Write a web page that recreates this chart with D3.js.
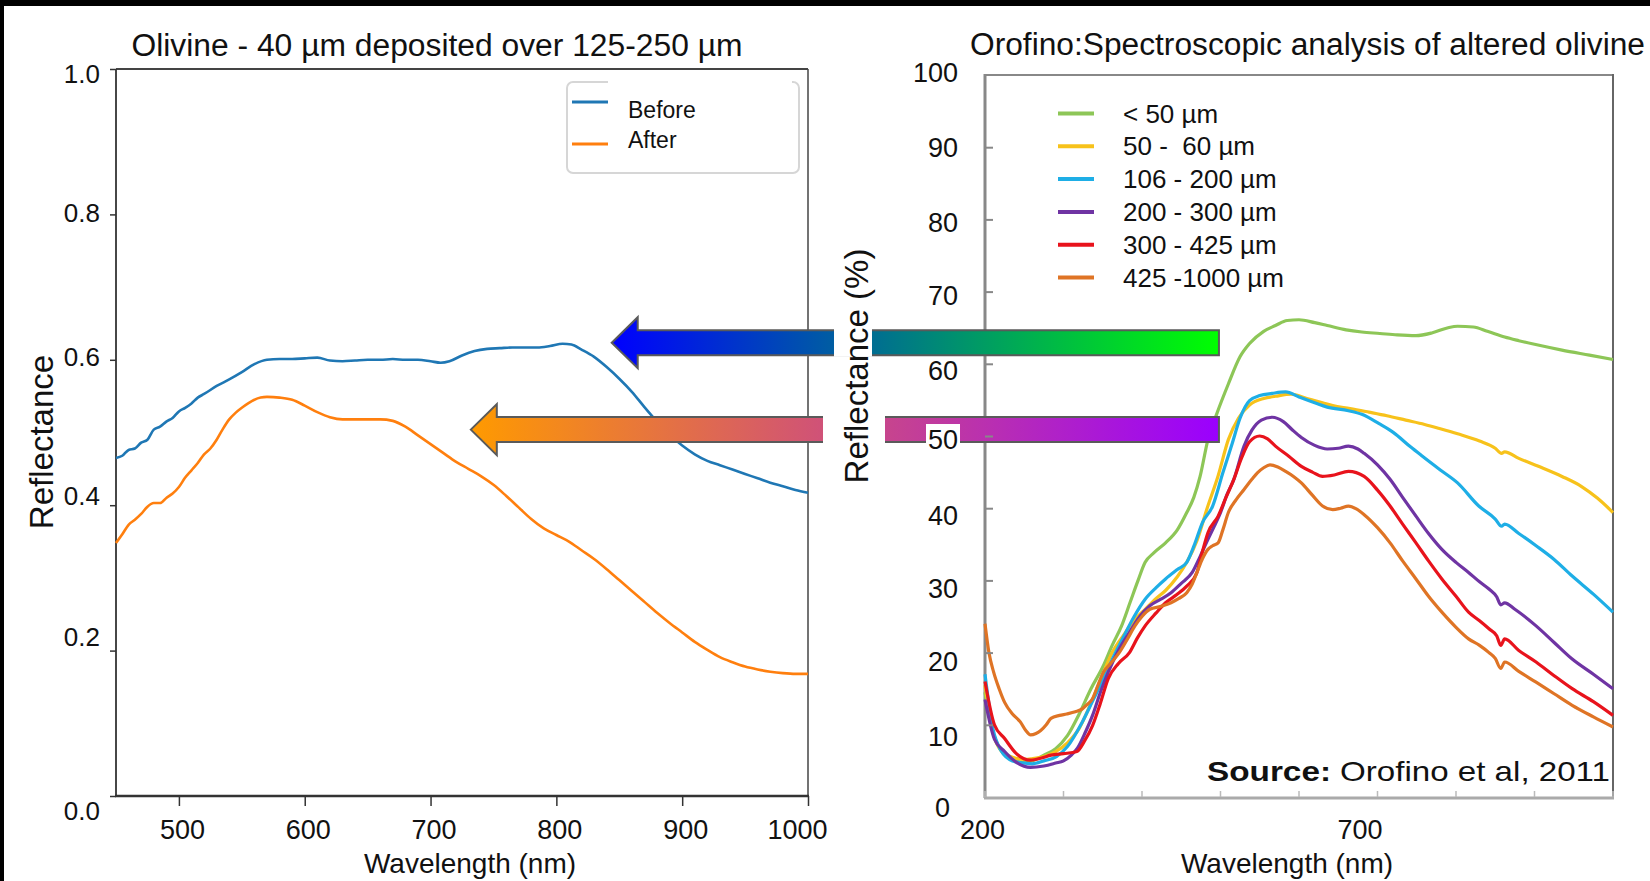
<!DOCTYPE html>
<html>
<head>
<meta charset="utf-8">
<script src="https://cdn.jsdelivr.net/npm/d3@7"></script>
<style>
  html, body { margin: 0; padding: 0; background: #000; }
  svg { display: block; }
  text { font-family: "Liberation Sans", Arial, sans-serif; fill: #111; }
</style>
</head>
<body>
<div id="chart"></div>
<script>
// ---- left panel data: olivine, reflectance (0-1) vs wavelength (nm)
const leftSeries = ["Before", "After"];
const before = [
  [450,0.465],[455,0.468],[460,0.476],[465,0.478],[470,0.486],[475,0.490],[480,0.504],[485,0.508],
  [490,0.515],[495,0.520],[500,0.529],[505,0.534],[510,0.540],[515,0.548],[520,0.553],[530,0.564],
  [540,0.573],[550,0.583],[560,0.594],[570,0.600],[580,0.601],[590,0.601],[600,0.602],[610,0.603],
  [620,0.599],[630,0.598],[640,0.599],[650,0.600],[660,0.600],[670,0.601],[680,0.600],[690,0.600],
  [700,0.598],[708,0.596],[715,0.598],[725,0.606],[735,0.612],[745,0.615],[755,0.616],[765,0.617],
  [775,0.617],[785,0.617],[795,0.619],[805,0.622],[812,0.621],[820,0.614],[830,0.604],[840,0.590],
  [850,0.574],[860,0.556],[870,0.535],[880,0.515],[890,0.497],[900,0.482],[910,0.470],[920,0.461],
  [930,0.455],[940,0.449],[950,0.443],[960,0.437],[970,0.431],[980,0.426],[990,0.421],[1000,0.417]
];
const after = [
  [450,0.348],[455,0.360],[460,0.373],[465,0.380],[470,0.388],[475,0.398],[480,0.403],[485,0.403],
  [490,0.410],[495,0.416],[500,0.425],[505,0.438],[510,0.448],[515,0.458],[520,0.470],[525,0.478],
  [530,0.490],[535,0.505],[540,0.518],[545,0.527],[550,0.534],[555,0.540],[560,0.545],[565,0.548],
  [570,0.549],[580,0.548],[590,0.545],[600,0.537],[610,0.528],[620,0.521],[630,0.518],[640,0.518],
  [650,0.518],[660,0.518],[670,0.516],[680,0.508],[690,0.496],[700,0.484],[710,0.472],[720,0.460],
  [730,0.450],[740,0.440],[750,0.428],[760,0.413],[770,0.397],[780,0.381],[790,0.368],[800,0.359],
  [810,0.350],[820,0.338],[830,0.326],[840,0.312],[850,0.297],[860,0.282],[870,0.267],[880,0.252],
  [890,0.238],[900,0.225],[910,0.212],[920,0.201],[930,0.191],[940,0.184],[950,0.178],[960,0.174],
  [970,0.171],[980,0.169],[990,0.168],[1000,0.168]
];
const leftXTicks = [500, 600, 700, 800, 900, 1000];
const leftYTicks = [0, 0.2, 0.4, 0.6, 0.8, 1.0];

// ---- right panel data: Orofino et al. 2011, reflectance (%) by grain size
const grainLabels = ["< 50 µm", "50 -  60 µm", "106 - 200 µm", "200 - 300 µm", "300 - 425 µm", "425 -1000 µm"];
const grainColors = ["#8dc657", "#f7c21b", "#1eaee6", "#6f34a3", "#e8131c", "#df7425"];
const grain50 = [
  [200,14.5],[210,9],[220,6.5],[235,5.2],[250,4.8],[260,5],[275,5.8],[290,6.7],[305,8.5],[320,11.5],
  [335,15],[350,18],[362,21],[374,23.7],[385,27],[395,30],[404,32.5],[415,33.8],[430,35.2],[445,37],
  [457,39.4],[466,41.5],[474,44.4],[484,49.5],[495,53],[510,57.2],[525,61],[537,62.8],[555,64.5],
  [570,65.3],[585,66],[600,66.1],[620,65.7],[636,65.3],[660,64.7],[680,64.4],[703,64.2],[725,64],
  [749,63.9],[770,64.3],[790,65],[802,65.2],[822,65.1],[840,64.5],[862,63.7],[880,63.2],[900,62.7],
  [935,61.9],[970,61.2],[1000,60.6]
];
const grain60 = [
  [200,15.5],[210,9],[220,6.5],[235,5.5],[250,5.2],[260,5.3],[275,5.6],[290,6.3],[305,7.5],[320,9.5],
  [335,13],[350,17],[362,20],[377,22.5],[390,24.5],[404,26],[418,27.5],[430,28.6],[445,30.5],[457,32.5],
  [470,35.5],[483,40],[497,44.5],[510,49.5],[523,52.5],[537,54.3],[555,55.2],[570,55.5],[590,55.8],
  [610,55.2],[630,54.6],[643,54.2],[665,53.8],[689,53.3],[712,52.8],[736,52.2],[760,51.6],[780,51],
  [802,50.3],[830,49.3],[850,48.3],[858,47.6],[862,47.8],[880,46.9],[905,45.8],[935,44.4],[960,43],
  [980,41.4],[1000,39.4]
];
const grain200 = [
  [200,17],[210,9.5],[220,6.5],[235,5],[250,4.7],[260,4.6],[275,5],[291,5.6],[305,7],[324,10.4],
  [338,13.5],[351,16.4],[364,19.5],[377,22.3],[390,25],[404,27.4],[418,29],[430,30.2],[445,31.5],
  [457,32.5],[467,35],[477,38],[490,40.3],[503,44.9],[515,49],[525,52.5],[537,54.9],[550,55.6],
  [566,55.9],[583,56.1],[600,55.4],[620,54.6],[636,54],[663,53.5],[680,53],[702,51.7],[720,50.5],
  [742,48.5],[756,47.3],[780,45.3],[802,43.5],[829,40.3],[850,38.5],[858,37.5],[862,37.8],[880,36.5],
  [902,34.8],[925,32.9],[948,30.6],[975,28.1],[1000,25.6]
];
const grain300 = [
  [200,13.5],[212,8],[225,6.3],[240,4.8],[258,4.1],[275,4.3],[290,4.7],[300,5],[310,5.8],[318,6.8],
  [328,9],[337,11.3],[347,14.5],[357,17.3],[370,20.3],[384,22.8],[397,25],[410,26.5],[424,27.4],
  [437,28.3],[450,29.6],[464,31.1],[474,33.3],[484,35.7],[492,37.5],[500,39.4],[508,41.8],[517,44],
  [530,48.6],[540,50.8],[552,52.2],[566,52.6],[580,52],[592,50.8],[603,49.8],[620,48.7],[636,48.2],
  [650,48.3],[663,48.6],[675,48.2],[683,47.6],[700,46],[716,44],[732,41.5],[749,38.9],[765,36.5],
  [782,34.3],[800,32.5],[816,31.1],[830,29.8],[842,28.8],[852,27.7],[857,26.6],[862,26.9],[875,26],
  [902,23.7],[925,21.4],[948,19.1],[975,17],[1000,15]
];
const grain425 = [
  [200,16],[212,10],[225,8.1],[240,6],[258,5.1],[272,5.4],[284,5.8],[300,6],[317,6.3],[327,7.8],
  [337,9.9],[347,13],[357,16.4],[370,18.5],[384,20],[394,22],[404,23.7],[418,25.5],[430,26.9],
  [444,28],[457,29.2],[470,31.1],[477,34],[484,36.6],[497,38.9],[507,41.5],[517,44],[527,47],
  [537,49.2],[550,50],[560,49.6],[570,48.6],[587,47.2],[603,45.8],[617,45],[630,44.4],[645,44.6],
  [663,45.1],[683,44.4],[700,42.5],[716,40.3],[732,37.8],[749,35.2],[765,32.7],[782,30.2],[800,27.8],
  [816,25.6],[830,24.4],[842,23.3],[852,22.3],[857,21],[862,21.9],[880,20.3],[902,18.7],[925,16.8],
  [948,15],[975,13.2],[1000,11.3]
];
const grain1000 = [
  [200,24],[205,20],[211,17.3],[218,15],[225,13.1],[235,11.5],[245,10.4],[252,9.2],[258,8.6],[265,8.8],
  [271,9.2],[278,10],[284,10.9],[295,11.3],[304,11.5],[315,11.8],[324,12.2],[330,12.8],[337,13.6],
  [344,15.5],[351,17.3],[360,18.5],[371,20],[381,21.8],[391,23.7],[400,25],[410,26],[424,26.4],
  [437,26.9],[447,27.5],[457,28.3],[464,29.5],[470,31.1],[477,33],[484,34.3],[490,34.8],[497,35.2],
  [503,37],[510,39.4],[520,41.2],[530,42.6],[540,44],[547,44.9],[555,45.6],[563,46],[573,45.7],
  [583,45.1],[593,44.4],[603,43.5],[617,41.8],[630,40.3],[643,39.8],[653,40],[663,40.3],[673,39.9],
  [683,39.1],[700,37.3],[716,35.2],[732,32.7],[749,30.2],[765,27.8],[782,25.6],[800,23.5],[816,21.9],
  [830,21],[842,20],[850,19.2],[857,17.8],[862,18.7],[880,17.4],[902,15.9],[925,14.3],[948,12.7],
  [975,11.1],[1000,9.7]
];
const grainSeries = [grain50, grain60, grain200, grain300, grain425, grain1000];
const rightYTicks = [0, 10, 20, 30, 40, 50, 60, 70, 80, 90, 100];
const rightXTicks = [200, 700];
const rightMinorTicks = [200, 300, 400, 500, 600, 700, 800, 900, 1000];

// comparison arrows: start on the left panel (nm, reflectance), end on the right panel (nm)
const arrowTipsNm = [844, 732];
const arrowLevels = [0.6235, 0.504];
const arrowEndNm = 498;

const W = 1650, H = 881;
const font = '"Liberation Sans", Arial, sans-serif';

const svg = d3.select("#chart").append("svg")
  .attr("width", W)
  .attr("height", H);

const defs = svg.append("defs");

svg.append("rect").attr("width", W).attr("height", H).attr("fill", "#000");
svg.append("rect").attr("x", 4).attr("y", 6).attr("width", W - 4).attr("height", H - 6).attr("fill", "#fff");

// ================= left panel =================
const xL = d3.scaleLinear().domain([450, 1000]).range([116, 808]);
const yL = d3.scaleLinear().domain([0, 1]).range([796, 69]);
const left = svg.append("g");

left.append("text")
  .attr("x", 131.5).attr("y", 56)
  .attr("font-size", 31)
  .attr("textLength", 611).attr("lengthAdjust", "spacingAndGlyphs")
  .text("Olivine - 40 µm deposited over 125-250 µm");

// frame
left.append("line").attr("x1", 116).attr("x2", 808).attr("y1", 69).attr("y2", 69).attr("stroke", "#444").attr("stroke-width", 2);
left.append("line").attr("x1", 808).attr("x2", 808).attr("y1", 69).attr("y2", 796).attr("stroke", "#444").attr("stroke-width", 1.5);
left.append("line").attr("x1", 116).attr("x2", 116).attr("y1", 69).attr("y2", 796).attr("stroke", "#333").attr("stroke-width", 1.8);
left.append("line").attr("x1", 115).attr("x2", 809).attr("y1", 796).attr("y2", 796).attr("stroke", "#333").attr("stroke-width", 2.5);

const xAxisL = left.append("g")
  .attr("transform", "translate(0,796)")
  .call(d3.axisBottom(xL).tickValues(leftXTicks).tickSize(10).tickPadding(14).tickFormat(d3.format("d")));
xAxisL.select(".domain").remove();
xAxisL.selectAll(".tick line").attr("stroke", "#333").attr("stroke-width", 1.5);
xAxisL.selectAll(".tick text")
  .attr("font-size", 27).attr("font-family", font).attr("fill", "#111")
  .attr("dx", d => d === 1000 ? -11 : 3);

const yShiftL = { 0: 15, 0.2: -13, 0.4: -9, 0.6: -3, 0.8: -1, 1: 5 };
const yAxisL = left.append("g")
  .attr("transform", "translate(116,0)")
  .call(d3.axisLeft(yL).tickValues(leftYTicks).tickSize(6).tickPadding(10).tickFormat(d3.format(".1f")));
yAxisL.select(".domain").remove();
yAxisL.selectAll(".tick line").attr("stroke", "#333").attr("stroke-width", 1.5);
yAxisL.selectAll(".tick text")
  .attr("font-size", 26).attr("font-family", font).attr("fill", "#111")
  .attr("transform", d => `translate(0,${yShiftL[d] || 0})`);

left.append("text")
  .attr("x", 470).attr("y", 873)
  .attr("text-anchor", "middle").attr("font-size", 28)
  .text("Wavelength (nm)");
left.append("text")
  .attr("transform", "translate(53,442) rotate(-90)")
  .attr("text-anchor", "middle").attr("font-size", 33)
  .text("Reflectance");

const lineL = d3.line().x(d => xL(d[0])).y(d => yL(d[1])).curve(d3.curveMonotoneX);
const leftColors = ["#1f77b4", "#ff7f0e"];
[before, after].forEach((s, i) => {
  left.append("path")
    .datum(s)
    .attr("d", lineL)
    .attr("fill", "none")
    .attr("stroke", leftColors[i])
    .attr("stroke-width", 2.6)
    .attr("stroke-linejoin", "round");
});

// legend
left.append("rect")
  .attr("x", 567).attr("y", 82).attr("width", 232).attr("height", 91).attr("rx", 6)
  .attr("fill", "#fff").attr("stroke", "#d6d6d6").attr("stroke-width", 2);
left.append("rect").attr("x", 608).attr("y", 79).attr("width", 184).attr("height", 6).attr("fill", "#fff");
const legLineY = [102, 144];
const legTextY = [118, 148];
leftSeries.forEach((name, i) => {
  left.append("line")
    .attr("x1", 572).attr("x2", 608).attr("y1", legLineY[i]).attr("y2", legLineY[i])
    .attr("stroke", leftColors[i]).attr("stroke-width", 3);
  left.append("text")
    .attr("x", 628).attr("y", legTextY[i]).attr("font-size", 23)
    .text(name);
});

// ================= right panel =================
const xR = d3.scaleLinear().domain([200, 1000]).range([985, 1613]);
const yR = d3.scaleLinear().domain([0, 100]).range([797, 75]);
const right = svg.append("g");

right.append("text")
  .attr("x", 970).attr("y", 55)
  .attr("font-size", 31)
  .attr("textLength", 675).attr("lengthAdjust", "spacingAndGlyphs")
  .text("Orofino:Spectroscopic analysis of altered olivine");

right.append("line").attr("x1", 985).attr("x2", 1613).attr("y1", 75).attr("y2", 75).attr("stroke", "#888").attr("stroke-width", 2);
right.append("line").attr("x1", 1613).attr("x2", 1613).attr("y1", 74).attr("y2", 798).attr("stroke", "#666").attr("stroke-width", 2);
right.append("line").attr("x1", 985).attr("x2", 985).attr("y1", 74).attr("y2", 798).attr("stroke", "#888").attr("stroke-width", 3);
right.append("line").attr("x1", 984).attr("x2", 1614).attr("y1", 798).attr("y2", 798).attr("stroke", "#aaa").attr("stroke-width", 3);

// minor ticks on the bottom, pointing inward
right.append("g")
  .selectAll("line")
  .data(rightMinorTicks)
  .join("line")
  .attr("x1", d => xR(d)).attr("x2", d => xR(d))
  .attr("y1", 797).attr("y2", 791)
  .attr("stroke", "#bbb").attr("stroke-width", 1.5);

const xAxisR = right.append("g")
  .attr("transform", "translate(0,797)")
  .call(d3.axisBottom(xR).tickValues(rightXTicks).tickSize(0).tickPadding(23).tickFormat(d3.format("d")));
xAxisR.select(".domain").remove();
xAxisR.selectAll(".tick text")
  .attr("font-size", 27).attr("font-family", font).attr("fill", "#111")
  .attr("dx", d => d === 700 ? -18 : -3);

right.append("text")
  .attr("x", 1287).attr("y", 873)
  .attr("text-anchor", "middle").attr("font-size", 28)
  .text("Wavelength (nm)");

const lineR = d3.line().x(d => xR(d[0])).y(d => yR(d[1])).curve(d3.curveMonotoneX);
right.append("g")
  .selectAll("path")
  .data(grainSeries)
  .join("path")
  .attr("d", lineR)
  .attr("fill", "none")
  .attr("stroke", (d, i) => grainColors[i])
  .attr("stroke-width", 3.2)
  .attr("stroke-linejoin", "round");

// legend (no frame)
const legR = right.append("g");
grainLabels.forEach((name, i) => {
  const y = 113.5 + i * 32.8;
  legR.append("line")
    .attr("x1", 1058).attr("x2", 1094).attr("y1", y).attr("y2", y)
    .attr("stroke", grainColors[i]).attr("stroke-width", 4);
  legR.append("text")
    .attr("x", 1123).attr("y", y).attr("dy", "0.35em")
    .attr("font-size", 26)
    .style("white-space", "pre")
    .text(name);
});

// ================= arrows =================
const arrowColors = [["#0000ff", "#00ff00"], ["#ff9a00", "#9a00ff"]];
const endX = xR(arrowEndNm);
arrowTipsNm.forEach((nm, i) => {
  const tip = xL(nm), cy = yL(arrowLevels[i]);
  const grad = defs.append("linearGradient")
    .attr("id", "arrowGrad" + i)
    .attr("gradientUnits", "userSpaceOnUse")
    .attr("x1", tip).attr("x2", endX).attr("y1", 0).attr("y2", 0);
  grad.append("stop").attr("offset", 0).attr("stop-color", arrowColors[i][0]);
  grad.append("stop").attr("offset", 1).attr("stop-color", arrowColors[i][1]);
  const head = 26, headHalf = 25.5, bodyHalf = 12.5;
  const pts = [
    [tip, cy], [tip + head, cy - headHalf], [tip + head, cy - bodyHalf], [endX, cy - bodyHalf],
    [endX, cy + bodyHalf], [tip + head, cy + bodyHalf], [tip + head, cy + headHalf]
  ];
  svg.append("path")
    .attr("d", d3.line()(pts) + "Z")
    .attr("fill", `url(#arrowGrad${i})`)
    .attr("stroke", "#5a5a5a")
    .attr("stroke-width", 2)
    .attr("stroke-linejoin", "miter");
});

// white background of the right y label cuts the bars
const gapBlue = yL(arrowLevels[0]);
const gapOrange = yL(arrowLevels[1]);
svg.append("rect").attr("x", 834).attr("y", gapBlue - 14).attr("width", 38).attr("height", 28).attr("fill", "#fff");
svg.append("rect").attr("x", 823).attr("y", gapOrange - 14).attr("width", 62).attr("height", 28).attr("fill", "#fff");

svg.append("text")
  .attr("transform", "translate(868,366) rotate(-90)")
  .attr("text-anchor", "middle").attr("font-size", 33)
  .text("Reflectance (%)");

// right y axis on top (the "50" label sits on a white patch over the bar)
svg.append("rect").attr("x", 926).attr("y", 424).attr("width", 34).attr("height", 28).attr("fill", "#fff");
const yShiftR = { 0: 11, 10: 12, 20: 9, 30: 8, 40: 8, 50: 4, 60: 7, 70: 4, 80: 3, 90: 1, 100: -2 };
const yAxisR = svg.append("g")
  .attr("transform", "translate(985,0)")
  .call(d3.axisLeft(yR).tickValues(rightYTicks).tickSizeInner(-8).tickSizeOuter(0).tickPadding(27).tickFormat(d3.format("d")));
yAxisR.select(".domain").remove();
yAxisR.selectAll(".tick line").attr("stroke", "#888").attr("stroke-width", 2)
  .filter(d => d === 0 || d === 100).remove();
yAxisR.selectAll(".tick text")
  .attr("font-size", 27).attr("font-family", font).attr("fill", "#111")
  .attr("transform", d => `translate(${d === 0 ? -8 : 0},${yShiftR[d] || 0})`);

// source note
svg.append("text")
  .attr("x", 1207).attr("y", 781)
  .attr("font-size", 28).attr("font-weight", "bold")
  .attr("textLength", 124).attr("lengthAdjust", "spacingAndGlyphs")
  .text("Source:");
svg.append("text")
  .attr("x", 1340).attr("y", 781)
  .attr("font-size", 28)
  .attr("textLength", 270).attr("lengthAdjust", "spacingAndGlyphs")
  .text("Orofino et al, 2011");
</script>
</body>
</html>
